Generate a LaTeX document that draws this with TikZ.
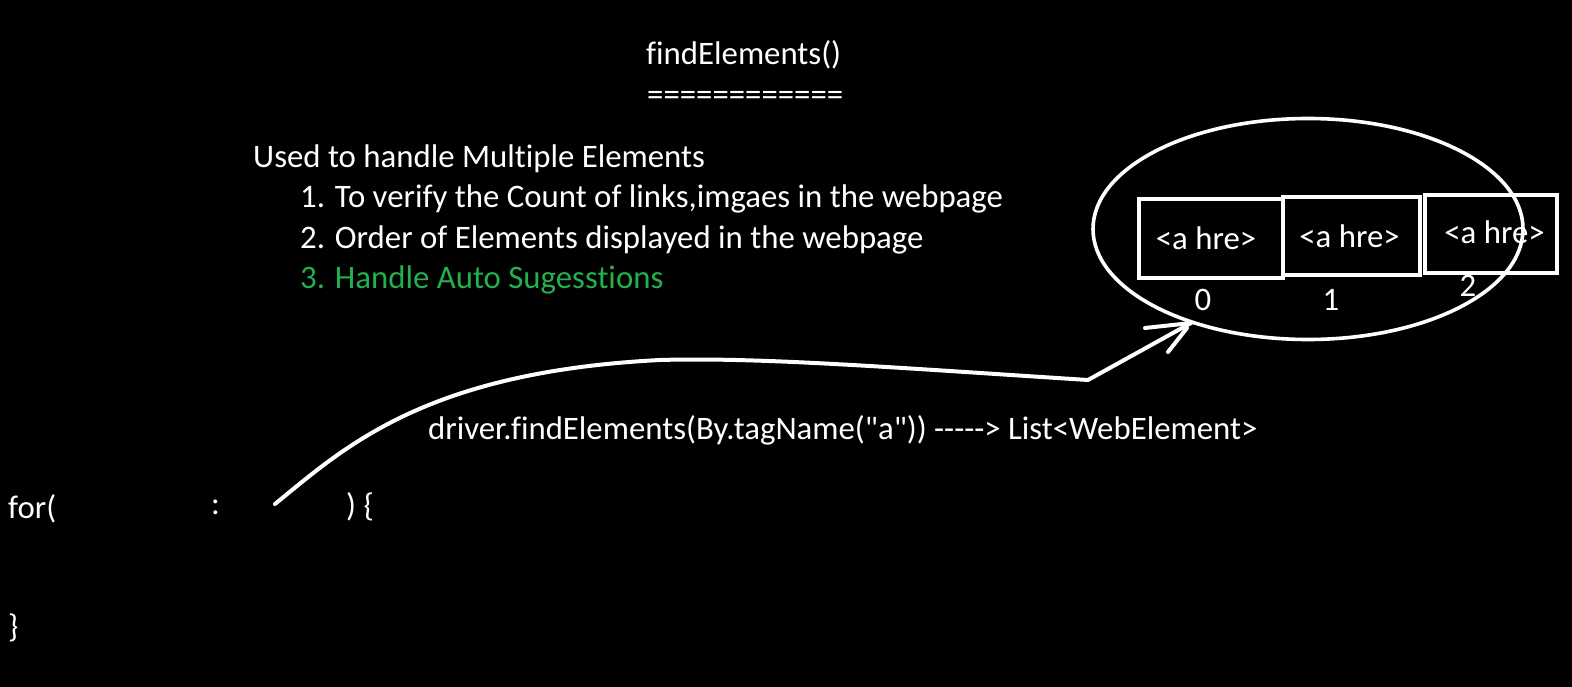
\documentclass[tikz,border=0pt]{standalone}
\usepackage{fontspec}
\newfontfamily\calfont{Carlito}[Ligatures=NoCommon]
\usetikzlibrary{shapes.geometric}
\definecolor{paintgreen}{HTML}{22B14C}
\begin{document}
\begin{tikzpicture}[x=1pt,y=-1pt,
  txt/.style={text=white,inner sep=0pt,anchor=base west,font=\calfont\fontsize{32.8}{39}\selectfont},
  elembox/.style={draw=white,line width=4pt,inner sep=0pt,text=white,font=\calfont\fontsize{32.8}{39}\selectfont},
  idx/.style={text=white,inner sep=0pt,anchor=base,font=\calfont\fontsize{32.8}{39}\selectfont},
  wire/.style={draw=white,line width=4pt,line cap=round,line join=round}]
\fill[black] (0,0) rectangle (1572,687);
\useasboundingbox (0,0) rectangle (1572,687);

\node[txt] (title) at (646,65) {findElements()};
\node[txt] (rule) at (647,106) {============};
\node[txt] (used) at (253,168) {Used to handle Multiple Elements};
\node[txt] (l1) at (300,208) {1. To verify the Count of links,imgaes in the webpage};
\node[txt] (l2) at (300,248) {2. Order of Elements displayed in the webpage};
\node[txt,text=paintgreen] (l3) at (300,288) {3. Handle Auto Sugesstions};

\node[draw=white,line width=3.6pt,ellipse,minimum width=430,minimum height=221,inner sep=0pt] (ell) at (1308,229) {};
\node[elembox,minimum width=144,minimum height=79] (b0) at (1211,238.5) {\hspace*{-10pt}\raisebox{-2pt}{<a hre>}};
\node[elembox,minimum width=137,minimum height=78] (b1) at (1351.5,236) {\hspace*{-4pt}<a hre>};
\node[elembox,minimum width=132,minimum height=78] (b2) at (1490.5,234) {\hspace*{8pt}\raisebox{3pt}{<a hre>}};
\node[idx] (i0) at (1203,310) {0};
\node[idx] (i1) at (1331,310) {1};
\node[idx] (i2) at (1468,296) {2};

\node[txt] (call) at (428,439) {driver.findElements(By.tagName("a")) -----> List<WebElement>};
\node[txt] (for) at (8,518) {for(};
\node[txt] (colon) at (211,514) {:};
\node[txt] (close) at (346,516) {) \{};
\node[txt] (brace) at (8,637) {\}};

\coordinate (start) at (275,504);
\coordinate (mid) at (660,360);
\coordinate (bend) at (1088,380);
\coordinate (tip) at (1191,323);
\coordinate (w1) at (1145,328);
\coordinate (w2) at (1168,352);
\coordinate (w2end) at (1187,328);
\draw[wire] (start) .. controls (345,447) and (425,372) .. (mid)
  .. controls (760,357) and (900,368) .. (bend) -- (tip);
\draw[wire] (w1) -- (tip);
\draw[wire] (w2) -- (w2end);
\end{tikzpicture}
\end{document}
